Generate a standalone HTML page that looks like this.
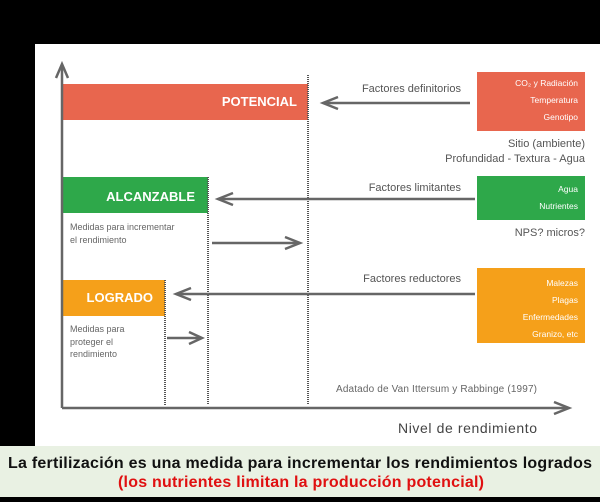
<!DOCTYPE html>
<html><head><meta charset="utf-8"><style>
body{margin:0;width:600px;height:502px;background:#000;overflow:hidden}
svg{display:block}
text{font-family:"Liberation Sans",sans-serif}
</style></head><body>
<svg width="600" height="502" viewBox="0 0 600 502" xmlns="http://www.w3.org/2000/svg">
<rect x="35" y="44" width="565" height="402" fill="#fff"/>
<rect x="0" y="446" width="600" height="51" fill="#e9f1e3"/>
<rect x="62" y="84" width="246" height="36" fill="#e8664e"/>
<rect x="62" y="177" width="146" height="36" fill="#2ea84a"/>
<rect x="62" y="280" width="103" height="36" fill="#f5a01a"/>
<g font-weight="bold" fill="#fff" font-size="13" text-anchor="end">
<text x="297" y="106">POTENCIAL</text>
<text x="195" y="201">ALCANZABLE</text>
<text x="153" y="302">LOGRADO</text>
</g>
<g stroke="#555" stroke-width="2" stroke-dasharray="1,1">
<line x1="308" y1="75" x2="308" y2="405"/>
<line x1="208" y1="177" x2="208" y2="405"/>
<line x1="165" y1="280" x2="165" y2="405"/>
</g>
<g stroke="#666" stroke-width="2.5" fill="none">
<line x1="62" y1="65" x2="62" y2="408"/>
<polyline points="56,78 62,64 68,78"/>
<line x1="62" y1="408" x2="568" y2="408"/>
<polyline points="554,402 569,408 554,414"/>
</g>
<g stroke="#666" stroke-width="2.5" fill="none">
<line x1="470" y1="103" x2="323" y2="103"/><polyline points="338,97 323,103 338,109"/>
<line x1="475" y1="199" x2="218" y2="199"/><polyline points="233,193 218,199 233,205"/>
<line x1="475" y1="294" x2="176" y2="294"/><polyline points="191,288 176,294 191,300"/>
<line x1="212" y1="243" x2="300" y2="243"/><polyline points="285,237 300,243 285,249"/>
<line x1="167" y1="338" x2="202" y2="338"/><polyline points="189,332 202,338 189,344"/>
</g>
<rect x="477" y="72" width="108" height="59" fill="#e8664e"/>
<rect x="477" y="176" width="108" height="44" fill="#2ea84a"/>
<rect x="477" y="268" width="108" height="75" fill="#f5a01a"/>
<g fill="#fff" font-size="8.5" text-anchor="end">
<text x="578" y="86">CO₂ y Radiación</text>
<text x="578" y="103">Temperatura</text>
<text x="578" y="120">Genotipo</text>
<text x="578" y="192">Agua</text>
<text x="578" y="209">Nutrientes</text>
<text x="578" y="286">Malezas</text>
<text x="578" y="303">Plagas</text>
<text x="578" y="320">Enfermedades</text>
<text x="578" y="337">Granizo, etc</text>
</g>
<g fill="#555" font-size="11" text-anchor="end">
<text x="461" y="92">Factores definitorios</text>
<text x="461" y="191">Factores limitantes</text>
<text x="461" y="282">Factores reductores</text>
<text x="585" y="147">Sitio (ambiente)</text>
<text x="585" y="162">Profundidad - Textura - Agua</text>
<text x="585" y="236">NPS? micros?</text>
</g>
<g fill="#666" font-size="9">
<text x="70" y="230">Medidas para incrementar</text>
<text x="70" y="243">el rendimiento</text>
<text x="70" y="332">Medidas para</text>
<text x="70" y="345">proteger el</text>
<text x="70" y="357">rendimiento</text>
</g>
<text x="336" y="392" fill="#666" font-size="10" textLength="201">Adatado de Van Ittersum y Rabbinge (1997)</text>
<text x="398" y="433" fill="#444" font-size="14" textLength="139">Nivel de rendimiento</text>
<text x="300" y="468" text-anchor="middle" font-size="16" font-weight="bold" fill="#111" textLength="584">La fertilización es una medida para incrementar los rendimientos logrados</text>
<text x="301" y="487" text-anchor="middle" font-size="16" font-weight="bold" fill="#e01010" textLength="366">(los nutrientes limitan la producción potencial)</text>
</svg>
</body></html>
